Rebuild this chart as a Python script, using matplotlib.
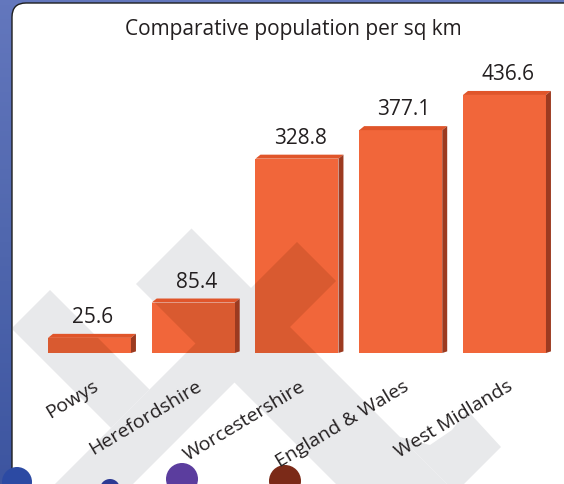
import numpy as np
import matplotlib.pyplot as plt
from matplotlib.patches import FancyBboxPatch, Polygon, Circle
from matplotlib.path import Path

plt.rcParams['font.family'] = ['Open Sans', 'DejaVu Sans']

# --- data ---
areas = ['Powys', 'Herefordshire', 'Worcestershire', 'England & Wales', 'West Midlands']
density = [25.6, 85.4, 328.8, 377.1, 436.6]
title = 'Comparative population per sq km'

FRONT = '#f1663a'
TOP = '#e0552a'
SIDE = '#9c3a20'
TXT = '#231f20'

W, H = 564, 484
fig = plt.figure(figsize=(W / 100, H / 100), dpi=100)

# background (blue frame + white rounded panel), pixel coords
bg = fig.add_axes([0, 0, 1, 1], zorder=-2)
bg.set_xlim(0, W)
bg.set_ylim(H, 0)
bg.axis('off')
grad = np.linspace(0, 1, 100).reshape(-1, 1)
bg.imshow(grad, extent=[0, W, H, 0], cmap=plt.matplotlib.colors.LinearSegmentedColormap.from_list(
    'b', ['#6377bd', '#5067ae', '#3d55a0']), aspect='auto')
bg.add_patch(FancyBboxPatch((12, 3), 620, 540, boxstyle='round,pad=0,rounding_size=14',
                            fc='white', ec='#1e1e1e', lw=1.0))

# watermark shapes (faint grey), pixel coords
wm_shapes = [
    [(191.5, 228.5), (447, 484), (336, 484), (136, 284)],
    [(297, 242), (336, 281), (133, 484), (55, 484)],
    [(50, 290), (149.5, 389.5), (111, 428), (13, 330), (13, 327)],
    [(400, 437), (430, 445), (452, 430), (467, 410), (501, 447), (464, 484), (447, 484)],
]
wm = fig.add_axes([0, 0, 1, 1], zorder=-1)
wm.set_xlim(0, W)
wm.set_ylim(H, 0)
wm.axis('off')
wm.patch.set_alpha(0)
for pts in wm_shapes:
    wm.add_patch(Polygon(pts, closed=True, fc='#e8e9eb', ec='none'))
# coloured heads peeking in at the bottom edge
for (cx, cy, r, c) in [(17, 482, 15, '#2c4aa3'), (110, 489, 10, '#2d3a94'),
                       (182, 479, 16, '#5b3d9e'), (285, 481, 16, '#7b2a18')]:
    wm.add_patch(Circle((cx, cy), r, fc=c, ec='none'))

# bar axes: zero at y=353px, 0.591 px per unit
ax = fig.add_axes([37.6 / W, 1 - 353 / H, 518.75 / W, 295.5 / H], zorder=0)
ax.patch.set_alpha(0)
ax.set_xlim(-0.5, 4.5)
ax.set_ylim(0, 500)
ax.axis('off')

x = np.arange(len(areas))
bw = 0.80
dx, dy = 0.048, 6.8
ax.bar(x, density, width=bw, color=FRONT, zorder=3)
for xi, v in zip(x, density):
    x0, x1 = xi - bw / 2, xi + bw / 2
    ax.add_patch(Polygon([(x0, v), (x1, v), (x1 + dx, v + dy), (x0 + dx, v + dy)],
                         closed=True, fc=TOP, ec='none', zorder=3))
    ax.add_patch(Polygon([(x1, 0), (x1 + dx, dy * 0.4), (x1 + dx, v + dy), (x1, v)],
                         closed=True, fc=SIDE, ec='none', zorder=3))
    ax.annotate(f'{v}', xy=(xi, v), xytext=(2.3, 10.8), textcoords='offset points',
                ha='center', va='baseline', fontsize=15, color=TXT)
    ax.annotate(areas[xi], xy=(xi, 0), xytext=(5, -23), textcoords='offset points',
                ha='right', va='center', rotation=31, rotation_mode='anchor',
                fontsize=14, color=TXT)

# darker watermark over the bars
bar_path = Path.make_compound_path(*[
    Path([(xi - bw / 2, 0), (xi + bw / 2, 0), (xi + bw / 2, v), (xi - bw / 2, v), (xi - bw / 2, 0)],
         closed=True) for xi, v in zip(x, density)])
wm2 = fig.add_axes([0, 0, 1, 1], zorder=1)
wm2.set_xlim(0, W)
wm2.set_ylim(H, 0)
wm2.axis('off')
wm2.patch.set_alpha(0)
for pts in wm_shapes:
    p = Polygon(pts, closed=True, fc='#d95a30', ec='none')
    wm2.add_patch(p)
    p.set_clip_path(bar_path, ax.transData)

fig.text(293 / W, 1 - 30 / H, title, ha='center', va='center', fontsize=15, color=TXT)

fig.savefig('out.png', dpi=100)
